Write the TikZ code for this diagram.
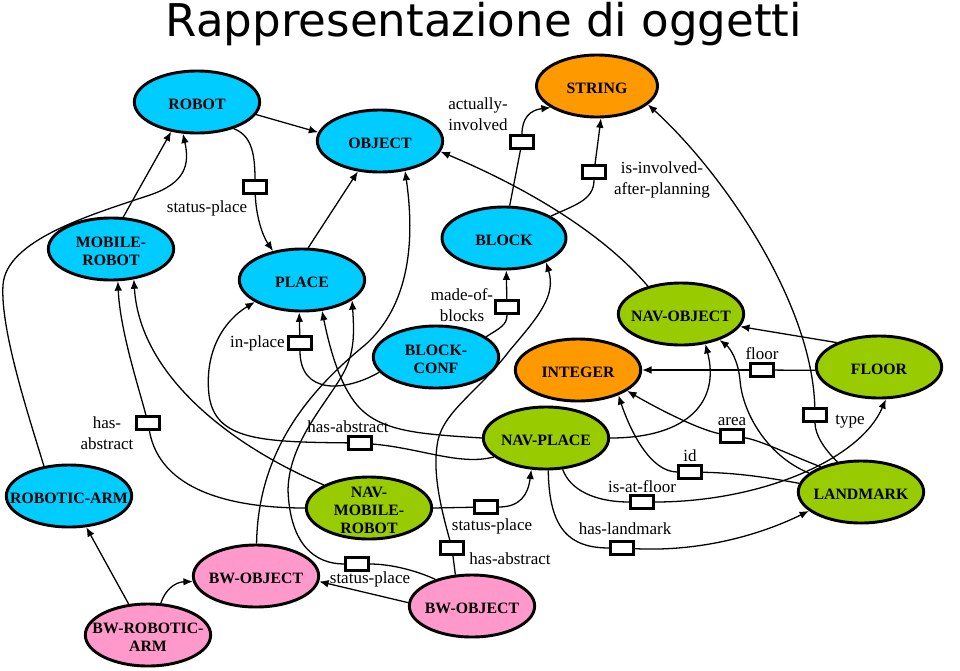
\documentclass[tikz,border=0pt]{standalone}
\usepackage{fontspec}
\setmainfont{Liberation Serif}
\newfontfamily\titlefont{DejaVu Sans}
\usetikzlibrary{shapes.geometric}
\usetikzlibrary{arrows.meta}
\usetikzlibrary{positioning}

\definecolor{clsblue}{RGB}{0,204,255}
\definecolor{clsorange}{RGB}{255,153,0}
\definecolor{clsgreen}{RGB}{153,204,0}
\definecolor{clspink}{RGB}{255,153,204}

\tikzset{
  cls/.style={ellipse, draw, line width=2.5pt, minimum width=3.76cm, minimum height=1.86cm, inner sep=0pt, label={[clsname]center:#1}},
  clsname/.style={align=center, yshift=-2pt, font=\fontsize{13.5}{15}\selectfont\bfseries},
  rel/.style={draw, line width=2.3pt, fill=white, minimum width=0.68cm, minimum height=0.4cm, inner sep=0pt},
  lbl/.style={font=\fontsize{14.5}{17.5}\selectfont, inner sep=0pt, align=center},
  conn/.style={line width=1.1pt},
  arr/.style={conn, -{Latex[length=8pt,width=6.5pt]}},
}

\begin{document}
\begin{tikzpicture}[x=0.03cm, y=-0.03cm]

    \useasboundingbox (0,0) rectangle (960,670) ; %
    \node[font=\titlefont\fontsize{38.5}{40}\selectfont, anchor=base, inner sep=0pt] (title) at (484,36) {Rappresentazione di oggetti} ; %

    % classes
    \node[cls=ROBOT, fill=clsblue] (robot) at (197,102) {} ; %
    \node[cls=OBJECT, fill=clsblue] (object) at (380,141) {} ; %
    \node[cls=STRING, fill=clsorange, minimum width=3.63cm] (string) at (597,86) {} ; %
    \node[cls={MOBILE-\\ROBOT}, fill=clsblue] (mobilerobot) at (111,249) {} ; %
    \node[cls=PLACE, fill=clsblue] (place) at (302,280) {} ; %
    \node[cls=BLOCK, fill=clsblue, minimum width=3.72cm] (block) at (504,238) {} ; %
    \node[cls={BLOCK-\\CONF}, fill=clsblue] (blockconf) at (436,357) {} ; %
    \node[cls=NAV-OBJECT, fill=clsgreen] (navobject) at (681,314) {} ; %
    \node[cls=INTEGER, fill=clsorange] (integer) at (578,370) {} ; %
    \node[cls=FLOOR, fill=clsgreen] (floor) at (879,367) {} ; %
    \node[cls=NAV-PLACE, fill=clsgreen] (navplace) at (546,438) {} ; %
    \node[cls=ROBOTIC-ARM, fill=clsblue] (roboticarm) at (69,496) {} ; %
    \node[cls={NAV-\\MOBILE-\\ROBOT}, fill=clsgreen] (navmobilerobot) at (369,508) {} ; %
    \node[cls=LANDMARK, fill=clsgreen] (landmark) at (861,492) {} ; %
    \node[cls=BW-OBJECT, fill=clspink] (bwobjectL) at (256,576) {} ; %
    \node[cls=BW-OBJECT, fill=clspink] (bwobjectR) at (472,606) {} ; %
    \node[cls={BW-ROBOTIC-\\ARM}, fill=clspink] (bwroboticarm) at (148,635) {} ; %

    % relation boxes
    \node[rel] (sp1) at (255,187) {} ; %
    \node[rel] (ip) at (300,343) {} ; %
    \node[rel] (ha1) at (148,423) {} ; %
    \node[rel] (ha2) at (360,443) {} ; %
    \node[rel] (mb) at (507,307) {} ; %
    \node[rel] (ai) at (522,142) {} ; %
    \node[rel] (ii) at (594,172) {} ; %
    \node[rel] (fl) at (762,370) {} ; %
    \node[rel] (ar) at (732,436) {} ; %
    \node[rel] (id) at (690,472) {} ; %
    \node[rel] (af) at (642,502) {} ; %
    \node[rel] (ty) at (815,415) {} ; %
    \node[rel] (sp3) at (486,507) {} ; %
    \node[rel] (ha3) at (452,548) {} ; %
    \node[rel] (hl) at (622,548) {} ; %
    \node[rel] (sp4) at (357,564) {} ; %

    % relation names
    \node[lbl] (lsp1) at (207,208) {status-place} ; %
    \node[lbl, left=2pt of ip] (lip) {in-place} ; %
    \node[lbl] (lha1) at (107,433) {has-\\abstract} ; %
    \node[lbl] (lha2) at (348,427) {has-abstract} ; %
    \node[lbl] (lmb) at (462,305) {made-of-\\blocks} ; %
    \node[lbl, align=left] (lai) at (478,114) {actually-\\involved} ; %
    \node[lbl] (lii) at (662,180) {is-involved-\\after-planning} ; %
    \node[lbl, above=2pt of fl] (lfl) {floor} ; %
    \node[lbl, above=2pt of ar] (lar) {area} ; %
    \node[lbl, above=2pt of id] (lid) {id} ; %
    \node[lbl, above=1pt of af] (laf) {is-at-floor} ; %
    \node[lbl] (lty) at (850,422) {type} ; %
    \node[lbl] (lsp3) at (492,526) {status-place} ; %
    \node[lbl] (lha3) at (510,559) {has-abstract} ; %
    \node[lbl] (lhl) at (625,529) {has-landmark} ; %
    \node[lbl] (lsp4) at (370,579) {status-place} ; %

    % is-a links
    \draw[arr] (robot.-12) -- (object.172) ; %
    \draw[arr] (mobilerobot.69) -- (robot.229) ; %
    \draw[arr] (roboticarm.130) .. controls (30,420) and (0,330) .. (3,285) .. controls (6,240) and (90,215) .. (150,195) .. controls (185,183) and (190,165) .. (robot.246) ; %
    \draw[arr] (place.79) -- (object.234) ; %
    \draw[arr] (bwobjectL.89) .. controls (258,450) and (310,390) .. (365,345) .. controls (410,305) and (415,240) .. (object.-50) ; %
    \draw[arr] (bwobjectR.177) -- (bwobjectL.-5) ; %
    \draw[arr] (navmobilerobot.153) .. controls (240,450) and (140,380) .. (mobilerobot.-53) ; %
    \draw[arr] (navplace.180) .. controls (420,434) and (380,432) .. (357,405) .. controls (340,385) and (330,350) .. (place.-57) ; %
    \draw[arr] (navobject.140) .. controls (600,230) and (520,185) .. (object.-10) ; %
    \draw[arr] (floor.150) -- (navobject.-12) ; %
    \draw[arr] (landmark.160) .. controls (765,455) and (742,410) .. (740,380) .. controls (738,360) and (730,348) .. (navobject.-34) ; %
    \draw[arr] (navplace.0) .. controls (690,438) and (720,400) .. (navobject.-51) ; %
    \draw[arr] (bwroboticarm.122) -- (roboticarm.-61) ; %
    \draw[arr] (bwroboticarm.68) .. controls (165,590) and (175,582) .. (bwobjectL.185) ; %

    % attribute links
    \draw[conn] (robot.-36) .. controls (250,135) and (255,150) .. (sp1) ; %
    \draw[arr] (sp1) .. controls (256,215) and (262,235) .. (place.135) ; %
    \draw[conn] (blockconf.195) .. controls (345,392) and (300,395) .. (ip) ; %
    \draw[arr] (ip) -- (place.265) ; %
    \draw[conn] (navmobilerobot.180) .. controls (230,508) and (160,490) .. (ha1) ; %
    \draw[arr] (ha1) .. controls (138,385) and (120,330) .. (mobilerobot.-78) ; %
    \draw[conn] (navplace.200) .. controls (460,466) and (420,448) .. (ha2) ; %
    \draw[arr] (ha2) .. controls (260,442) and (215,440) .. (209,395) .. controls (204,350) and (225,320) .. (place.205) ; %
    \draw[conn] (blockconf.22) .. controls (500,328) and (507,325) .. (mb) ; %
    \draw[arr] (mb) -- (block.-86) ; %
    \draw[conn] (block.80) -- (ai) ; %
    \draw[arr] (ai) .. controls (522,118) and (530,110) .. (string.205) ; %
    \draw[conn] (block.25) .. controls (575,205) and (594,200) .. (ii) ; %
    \draw[arr] (ii) -- (string.-83) ; %
    \draw[conn] (floor.183) -- (fl) ; %
    \draw[arr] (fl) -- (integer.0) ; %
    \draw[conn] (landmark.148) .. controls (790,455) and (760,440) .. (ar) ; %
    \draw[arr] (ar) .. controls (700,430) and (660,410) .. (integer.-23) ; %
    \draw[conn] (landmark.172) .. controls (770,478) and (740,473) .. (id) ; %
    \draw[arr] (id) .. controls (650,472) and (630,430) .. (integer.-32) ; %
    \draw[conn] (navplace.-62) .. controls (570,490) and (595,502) .. (af) ; %
    \draw[arr] (af) .. controls (760,502) and (860,460) .. (floor.-78) ; %
    \draw[conn] (landmark.128) .. controls (825,450) and (815,435) .. (ty) ; %
    \draw[arr] (ty) .. controls (812,300) and (720,170) .. (string.-20) ; %
    \draw[conn] (navmobilerobot.0) -- (sp3) ; %
    \draw[arr] (sp3) .. controls (520,507) and (528,495) .. (navplace.-115) ; %
    \draw[conn] (bwobjectR.118) -- (ha3) ; %
    \draw[arr] (ha3) .. controls (440,505) and (432,470) .. (438,440) .. controls (445,410) and (480,390) .. (510,350) .. controls (540,315) and (556,295) .. (block.-30) ; %
    \draw[conn] (navplace.-86) .. controls (549,530) and (570,548) .. (hl) ; %
    \draw[arr] (hl) .. controls (700,552) and (760,535) .. (landmark.200) ; %
    \draw[conn] (bwobjectR.144) .. controls (415,570) and (390,564) .. (sp4) ; %
    \draw[arr] (sp4) .. controls (315,564) and (290,545) .. (288,490) .. controls (289,440) and (330,400) .. (345,370) .. controls (355,350) and (354,330) .. (place.-22) ; %

\end{tikzpicture}
\end{document}
